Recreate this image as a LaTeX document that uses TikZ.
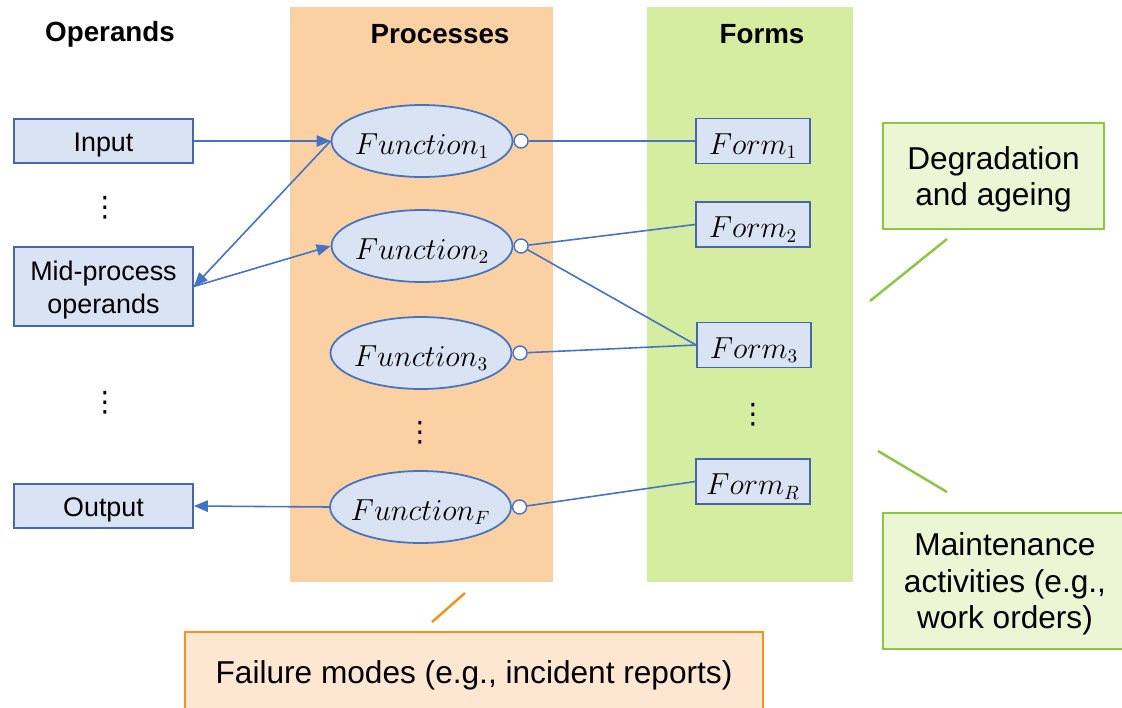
\documentclass[tikz,border=0pt]{standalone}
\usepackage{fontspec}
\setmainfont{Liberation Sans}
\newfontfamily\symbolfont{DejaVu Sans}
\usetikzlibrary{arrows.meta,shapes.geometric}

\definecolor{boxfill}{HTML}{DAE3F3}
\definecolor{boxline}{HTML}{4468A8}
\definecolor{linkblue}{HTML}{4472C4}
\definecolor{procband}{HTML}{FBD1A3}
\definecolor{formband}{HTML}{D4EDA0}
\definecolor{greenfill}{HTML}{EBF6D5}
\definecolor{greenline}{HTML}{8DC63F}
\definecolor{orangefill}{HTML}{FDE7D2}
\definecolor{orangeline}{HTML}{F7901E}

% extra room above a label, so that, once centred, it sits a little low
\newcommand{\lowered}[2]{\raisebox{0pt}[\dimexpr\height+#1\relax][\depth]{#2}}
% label set in a zero-width box, so the shape keeps its own size
\newcommand{\fixedlabel}[1]{\makebox[0pt]{\lowered{5.6pt}{#1}}}
% centred lines of text
\newcommand{\lines}[1]{\lowered{4.6pt}{\begin{tabular}{@{}c@{}}#1\end{tabular}}}

\begin{document}
\begin{tikzpicture}[x=0.02cm,y=-0.02cm,
  head/.style={font=\fontsize{15.8}{18}\selectfont\bfseries},
  operand/.style={draw=boxline, fill=boxfill, line width=1pt, minimum width=3.58cm,
    inner sep=0pt, font=\fontsize{15.3}{18.5}\selectfont},
  func/.style={ellipse, draw=linkblue, fill=boxfill, line width=1pt,
    minimum width=3.62cm, minimum height=1.44cm, inner sep=0pt,
    font=\fontsize{16}{18}\selectfont},
  port/.style={circle, draw=linkblue, fill=white, line width=0.8pt,
    minimum size=0.28cm, inner sep=0pt, anchor=west},
  formbox/.style={draw=boxline, fill=boxfill, line width=1pt, minimum width=2.28cm,
    minimum height=0.9cm, inner sep=0pt, font=\fontsize{16}{18}\selectfont},
  vdotsnode/.style={inner sep=0pt, font=\symbolfont\fontsize{16}{18}\selectfont},
  link/.style={draw=linkblue, line width=0.9pt},
  arr/.style={link, -{Triangle[length=8pt,width=6.5pt]}},
  callout/.style={line width=1.4pt, inner sep=0pt,
    font=\fontsize{18}{20.7}\selectfont},
]
\clip (0,0) rectangle (1122,707);
\fill[white] (0,0) rectangle (1122,707);

% column bands
\fill[procband] (290,7) rectangle (553,582);
\fill[formband] (647,7) rectangle (853,582);

% column headings
\node[head] (hop) at (110,34) {Operands};
\node[head] (hpr) at (440,34) {Processes};
\node[head] (hfo) at (762,34) {Forms};

% operands
\node[operand, minimum height=0.88cm] (input) at (103.5,141) {\lines{Input}};
\node[operand, minimum height=1.58cm] (mid) at (103.5,286.5) {\lines{Mid-process\\operands}};
\node[operand, minimum height=0.88cm] (output) at (103.5,506) {\lines{Output}};
\node[vdotsnode] (opd1) at (105,208) {⋮};
\node[vdotsnode] (opd2) at (105,403) {⋮};

% functions
\node[func] (f1) at (422,141) {\fixedlabel{$Function_1$}};
\node[func] (f2) at (422,246) {\fixedlabel{$Function_2$}};
\node[func] (f3) at (421,353) {\fixedlabel{$Function_3$}};
\node[func] (ff) at (420.5,507) {\fixedlabel{$Function_F$}};
\node[vdotsnode] (fnd) at (420,433) {⋮};

\node[port] (p1) at (f1.east) {};
\node[port] (p2) at (f2.east) {};
\node[port] (p3) at (f3.east) {};
\node[port] (pf) at (ff.east) {};

% forms
\node[formbox] (form1) at (753,141) {\fixedlabel{$Form_1$}};
\node[formbox] (form2) at (753,224.5) {\fixedlabel{$Form_2$}};
\node[formbox] (form3) at (754,345) {\fixedlabel{$Form_3$}};
\node[formbox] (formr) at (753,481.5) {\fixedlabel{$Form_R$}};
\node[vdotsnode] (fod) at (753,415) {⋮};

% operand flows
\draw[arr] (input.east) -- (f1.west);
\draw[arr] (f1.west) -- (mid.east);
\draw[arr] (mid.east) -- (f2.west);
\draw[arr] (ff.west) -- (output.east);

% function-to-form allocation
\draw[link] (p1) -- (form1.west);
\draw[link] (p2) -- (form2.west);
\draw[link] (p2) -- (form3.west);
\draw[link] (p3) -- (form3.west);
\draw[link] (pf) -- (formr.west);

% annotations
\node[callout, draw=greenline, fill=greenfill, minimum width=4.42cm, minimum height=2.12cm]
  (degr) at (993.5,176) {\lines{Degradation\\and ageing}};
\node[callout, draw=greenline, fill=greenfill, minimum width=4.88cm, minimum height=2.72cm]
  (maint) at (1005,581) {\lines{Maintenance\\activities (e.g.,\\work orders)}};
\node[callout, draw=orangeline, fill=orangefill, minimum width=11.56cm, minimum height=1.6cm]
  (fail) at (474,672) {\lines{Failure modes (e.g., incident reports)}};

\coordinate (dg1) at (947,239);
\coordinate (dg2) at (870,301);
\coordinate (mt1) at (878,451);
\coordinate (mt2) at (947,492);
\coordinate (fl1) at (465,593);
\coordinate (fl2) at (432,622);
\draw[greenline, line width=1.4pt] (dg1) -- (dg2);
\draw[greenline, line width=1.4pt] (mt1) -- (mt2);
\draw[orangeline, line width=1.4pt] (fl1) -- (fl2);
\end{tikzpicture}
\end{document}
